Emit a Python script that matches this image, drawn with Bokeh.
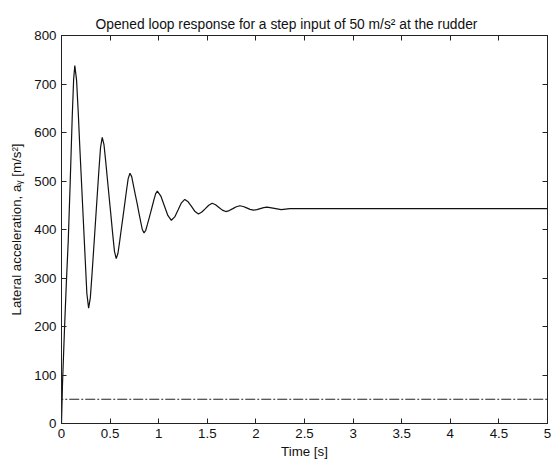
from bokeh.plotting import figure
from bokeh.models import LinearAxis, FixedTicker, Range1d, Title
from bokeh.embed import file_html
from bokeh.resources import INLINE

# Response
time_s = [0.0, 0.01, 0.03, 0.05, 0.07, 0.09, 0.11, 0.125, 0.137,
          0.155, 0.173, 0.190, 0.208, 0.226, 0.244, 0.261, 0.279,
          0.2965, 0.314, 0.3315, 0.349, 0.3665, 0.384, 0.4015, 0.419,
          0.437, 0.455, 0.473, 0.491, 0.509, 0.527, 0.545, 0.563,
          0.581, 0.598, 0.616, 0.634, 0.651, 0.669, 0.686, 0.704,
          0.722, 0.740, 0.758, 0.777, 0.795, 0.813, 0.831, 0.849,
          0.866, 0.883, 0.901, 0.918, 0.935, 0.952, 0.969, 0.986,
          1.022, 1.058, 1.094, 1.13,
          1.165, 1.199, 1.234, 1.268,
          1.303, 1.339, 1.374, 1.409,
          1.444, 1.48, 1.515, 1.55,
          1.585, 1.62, 1.655, 1.69,
          1.726, 1.763, 1.799, 1.835,
          1.87, 1.905, 1.94, 1.975,
          2.01, 2.045, 2.08, 2.115,
          2.19, 2.26, 2.35, 5.0]
accel = [0, 80, 190, 290, 380, 500, 630, 710, 738,
         708, 638, 563, 488, 413, 338, 268, 238,
         259, 308, 361, 414, 467, 520, 569, 590,
         575, 540, 502, 465, 428, 390, 355, 340,
         351, 375, 402, 428, 454, 481, 505, 516,
         509, 491, 473, 455, 436, 418, 400, 393,
         398, 410, 423, 436, 449, 462, 474, 479,
         469, 449, 429, 419,
         426, 440, 455, 462,
         457, 447, 437, 432,
         436, 443, 450, 454,
         451, 445.5, 440, 437,
         439, 443, 447, 449,
         447.5, 444.5, 441.5, 440,
         441, 443, 445, 446,
         443.5, 441, 443, 443]

# Step input
step_time = [0.0, 0.0, 5.0]
step_value = [0, 50, 50]

x_ticks = [0, 0.5, 1, 1.5, 2, 2.5, 3, 3.5, 4, 4.5, 5]
x_tick_labels = ["0", "0.5", "1", "1.5", "2", "2.5", "3", "3.5", "4", "4.5", "5"]
y_ticks = [0, 100, 200, 300, 400, 500, 600, 700, 800]
y_tick_labels = ["0", "100", "200", "300", "400", "500", "600", "700", "800"]

FONT = "Liberation Sans"
FS = "13.3px"

p = figure(width=555, height=464, output_backend="svg", toolbar_location=None,
           x_range=Range1d(0, 5), y_range=Range1d(0, 800),
           x_axis_location=None, y_axis_location=None)
p.min_border_left = 61
p.min_border_right = 8
p.min_border_top = 35
p.min_border_bottom = 41
p.background_fill_color = "white"
p.border_fill_color = "white"
p.outline_line_color = "#222222"
p.outline_line_width = 1
p.xgrid.visible = False
p.ygrid.visible = False

p.title = Title(text="Opened loop response for a step input of 50 m/s\u00b2 at the rudder",
                align="left", offset=34, text_font=FONT, text_font_size="13.8px",
                text_font_style="normal", text_color="#111111", standoff=8)

def style(ax):
    ax.major_tick_in = 5
    ax.major_tick_out = 0
    ax.minor_tick_line_color = None
    ax.axis_line_color = "#222222"
    ax.major_tick_line_color = "#222222"
    ax.major_label_text_font = FONT
    ax.major_label_text_font_size = FS
    ax.major_label_text_color = "#111111"
    ax.axis_label_text_font = FONT
    ax.axis_label_text_font_size = FS
    ax.axis_label_text_font_style = "normal"
    ax.axis_label_text_color = "#111111"

xb = LinearAxis(ticker=FixedTicker(ticks=x_ticks),
                major_label_overrides=dict(zip(x_ticks, x_tick_labels)),
                axis_label="Time [s]")
style(xb)
xb.major_label_standoff = 5
xb.axis_label_standoff = 3
p.add_layout(xb, "below")

yl = LinearAxis(ticker=FixedTicker(ticks=y_ticks),
                major_label_overrides=dict(zip(y_ticks, y_tick_labels)),
                axis_label="Lateral acceleration, a\u1d67 [m/s\u00b2]")
style(yl)
yl.major_label_standoff = 5
yl.axis_label_standoff = 7
p.add_layout(yl, "left")

xt = LinearAxis(ticker=FixedTicker(ticks=x_ticks),
                major_label_overrides={t: "" for t in x_ticks})
style(xt)
xt.major_label_standoff = 0
p.add_layout(xt, "above")

yr = LinearAxis(ticker=FixedTicker(ticks=y_ticks),
                major_label_overrides={t: "" for t in y_ticks})
style(yr)
yr.major_label_standoff = 0
p.add_layout(yr, "right")

p.line(step_time, step_value, line_color="#222222", line_width=1, line_dash="10 2 2 2")
p.line(time_s, accel, line_color="#111111", line_width=1.2)

open("out.html", "w").write(file_html(p, INLINE))
